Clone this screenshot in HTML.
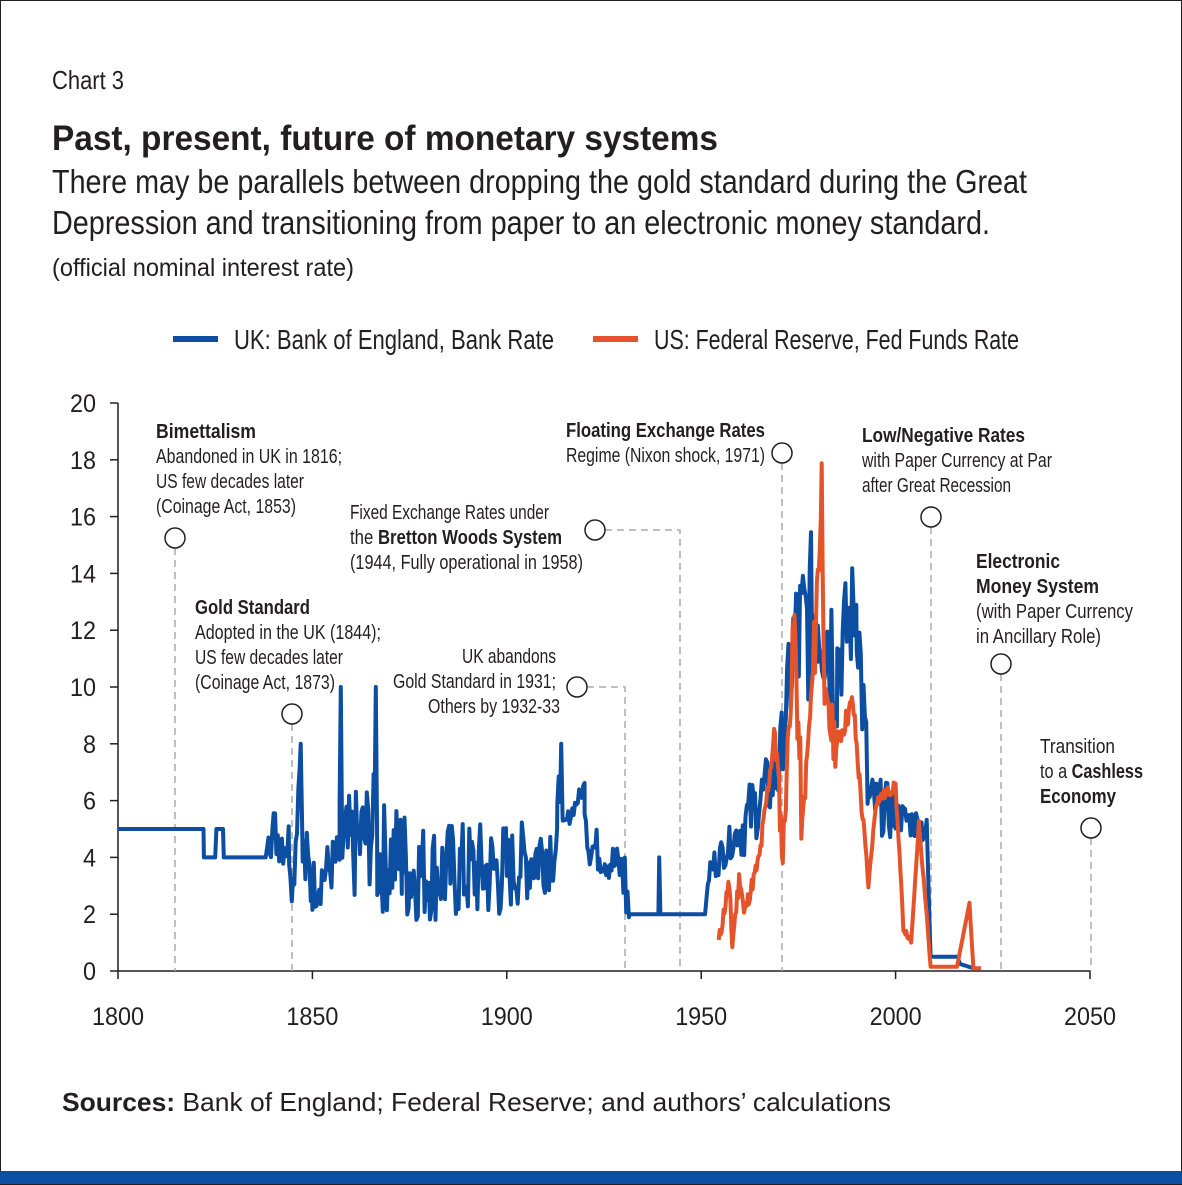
<!DOCTYPE html>
<html><head><meta charset="utf-8"><style>
html,body{margin:0;padding:0;background:#fff}
svg{display:block}
text{font-family:"Liberation Sans Narrow","Liberation Sans",sans-serif;fill:#231f20}
</style></head><body>
<svg id="s" width="1182" height="1185" xmlns="http://www.w3.org/2000/svg">
<rect x="0.5" y="0.5" width="1181" height="1184" fill="#fff" stroke="#231f20" stroke-width="1"/>
<rect x="0" y="1171" width="1182" height="13" fill="#0b4ea2"/>
<text x="52" y="89" font-size="26" textLength="72" lengthAdjust="spacingAndGlyphs">Chart 3</text>
<text x="52" y="150" font-size="35" font-weight="bold" textLength="666" lengthAdjust="spacingAndGlyphs">Past, present, future of monetary systems</text>
<text x="52" y="193" font-size="33" textLength="975" lengthAdjust="spacingAndGlyphs">There may be parallels between dropping the gold standard during the Great</text>
<text x="52" y="234" font-size="33" textLength="938" lengthAdjust="spacingAndGlyphs">Depression and transitioning from paper to an electronic money standard.</text>
<text x="52" y="276" font-size="25" textLength="302" lengthAdjust="spacingAndGlyphs">(official nominal interest rate)</text>
<line x1="173" y1="339" x2="218" y2="339" stroke="#0b4ea2" stroke-width="6"/>
<text x="234" y="349" font-size="28" textLength="320" lengthAdjust="spacingAndGlyphs">UK: Bank of England, Bank Rate</text>
<line x1="593" y1="339" x2="638" y2="339" stroke="#e5532a" stroke-width="6"/>
<text x="654" y="349" font-size="28" textLength="365" lengthAdjust="spacingAndGlyphs">US: Federal Reserve, Fed Funds Rate</text>
<g id="axes" font-size="25"></g>
<g stroke="#aaa" stroke-width="1.5" stroke-dasharray="7,5" fill="none">
<polyline points="175,548 175,971"/>
<polyline points="292,724 292,971"/>
<polyline points="605,530 680,530 680,971"/>
<polyline points="587,687 625,687 625,971"/>
<polyline points="782,463 782,971"/>
<polyline points="931,527 931,971"/>
<polyline points="1001,674 1001,971"/>
<polyline points="1091,838 1091,971"/>
</g>
<g fill="#fff" stroke="#231f20" stroke-width="1.5">
<circle cx="175" cy="538" r="10"/><circle cx="292" cy="714" r="10"/><circle cx="595" cy="530" r="10"/><circle cx="577" cy="687" r="10"/><circle cx="782" cy="453" r="10"/><circle cx="931" cy="517" r="10"/><circle cx="1001" cy="664" r="10"/><circle cx="1091" cy="828" r="10"/>
</g>
<g font-size="20">
<text x="156" y="438" font-weight="bold" textLength="100" lengthAdjust="spacingAndGlyphs">Bimettalism</text>
<text x="156" y="463" textLength="186" lengthAdjust="spacingAndGlyphs">Abandoned in UK in 1816;</text>
<text x="156" y="488" textLength="148" lengthAdjust="spacingAndGlyphs">US few decades later</text>
<text x="156" y="513" textLength="140" lengthAdjust="spacingAndGlyphs">(Coinage Act, 1853)</text>
<text x="195" y="614" font-weight="bold" textLength="115" lengthAdjust="spacingAndGlyphs">Gold Standard</text>
<text x="195" y="639" textLength="186" lengthAdjust="spacingAndGlyphs">Adopted in the UK (1844);</text>
<text x="195" y="664" textLength="148" lengthAdjust="spacingAndGlyphs">US few decades later</text>
<text x="195" y="689" textLength="140" lengthAdjust="spacingAndGlyphs">(Coinage Act, 1873)</text>
<text x="350" y="519" textLength="199" lengthAdjust="spacingAndGlyphs">Fixed Exchange Rates under</text>
<text x="350" y="544" textLength="212" lengthAdjust="spacingAndGlyphs">the <tspan font-weight="bold">Bretton Woods System</tspan></text>
<text x="350" y="569" textLength="233" lengthAdjust="spacingAndGlyphs">(1944, Fully operational in 1958)</text>
<text x="462" y="663" textLength="94" lengthAdjust="spacingAndGlyphs">UK abandons</text>
<text x="393" y="688" textLength="163" lengthAdjust="spacingAndGlyphs">Gold Standard in 1931;</text>
<text x="428" y="713" textLength="132" lengthAdjust="spacingAndGlyphs">Others by 1932-33</text>
<text x="566" y="437" font-weight="bold" textLength="199" lengthAdjust="spacingAndGlyphs">Floating Exchange Rates</text>
<text x="566" y="462" textLength="199" lengthAdjust="spacingAndGlyphs">Regime (Nixon shock, 1971)</text>
<text x="862" y="442" font-weight="bold" textLength="163" lengthAdjust="spacingAndGlyphs">Low/Negative Rates</text>
<text x="862" y="467" textLength="190" lengthAdjust="spacingAndGlyphs">with Paper Currency at Par</text>
<text x="862" y="492" textLength="149" lengthAdjust="spacingAndGlyphs">after Great Recession</text>
<text x="976" y="568" font-weight="bold" textLength="84" lengthAdjust="spacingAndGlyphs">Electronic</text>
<text x="976" y="593" font-weight="bold" textLength="123" lengthAdjust="spacingAndGlyphs">Money System</text>
<text x="976" y="618" textLength="157" lengthAdjust="spacingAndGlyphs">(with Paper Currency</text>
<text x="976" y="643" textLength="125" lengthAdjust="spacingAndGlyphs">in Ancillary Role)</text>
<text x="1040" y="753" textLength="75" lengthAdjust="spacingAndGlyphs">Transition</text>
<text x="1040" y="778" textLength="103" lengthAdjust="spacingAndGlyphs">to a <tspan font-weight="bold">Cashless</tspan></text>
<text x="1040" y="803" font-weight="bold" textLength="76" lengthAdjust="spacingAndGlyphs">Economy</text>
</g>
<polyline id="uk" fill="none" stroke="#0b4ea2" stroke-width="4" stroke-linejoin="round"/>
<polyline id="us" fill="none" stroke="#e5532a" stroke-width="4" stroke-linejoin="round"/>
<text x="62" y="1111" font-size="26" textLength="829" lengthAdjust="spacingAndGlyphs" style="font-family:'Liberation Sans',sans-serif"><tspan font-weight="bold">Sources:</tspan> Bank of England; Federal Reserve; and authors’ calculations</text>
</svg>
<script>
var X=function(y){return 118+(y-1800)*3.888},Y=function(v){return 971-v*28.4};
var ns="http://www.w3.org/2000/svg",ax=document.getElementById("axes");
function el(t,a,txt){var e=document.createElementNS(ns,t);for(var k in a)e.setAttribute(k,a[k]);if(txt!=null)e.textContent=txt;ax.appendChild(e);}
el("line",{x1:118,y1:403,x2:118,y2:971,stroke:"#231f20","stroke-width":1.5});
el("line",{x1:118,y1:971,x2:1090,y2:971,stroke:"#231f20","stroke-width":1.5});
for(var v=0;v<=20;v+=2){el("line",{x1:110,y1:Y(v),x2:118,y2:Y(v),stroke:"#231f20","stroke-width":1.5});el("text",{x:96,y:Y(v)+9,"text-anchor":"end","font-size":25,textLength:(v<10?13:26),lengthAdjust:"spacingAndGlyphs"},v);}
for(var y=1800;y<=2050;y+=50){el("line",{x1:X(y),y1:971,x2:X(y),y2:979,stroke:"#231f20","stroke-width":1.5});el("text",{x:X(y)-26,y:1025,"font-size":25,textLength:52,lengthAdjust:"spacingAndGlyphs"},y);}
var seed=7;function r(){seed=(seed*9301+49297)%233280;return seed/233280;}
function gen(anchors,step){var p=[];for(var i=0;i<anchors.length-1;i++){var a=anchors[i],b=anchors[i+1];for(var t=a[0];t<b[0];t+=step){var f=(t-a[0])/(b[0]-a[0]);var v=a[1]+(b[1]-a[1])*f;var n=a[2]||0;v+=(r()-0.5)*2*n;if(v<0.05)v=0.05;p.push(X(t).toFixed(1)+","+Y(v).toFixed(1));}}var l=anchors[anchors.length-1];p.push(X(l[0]).toFixed(1)+","+Y(l[1]).toFixed(1));return p.join(" ");}
var uk=[[1800,5],[1822,5],[1822.1,4],[1825,4],[1825.3,5],[1827,5],[1827.2,4],[1838,4],[1839,5,1],[1844,4.5,1],[1845,3,1],[1847,8,0],[1847.5,4,1.5],[1850,3,1],[1857,4,2],[1857.3,10,0],[1857.7,4,2],[1866,5,2.5],[1866.3,10,0],[1866.7,4,2],[1873,4,2],[1875,3.5,1.8],[1890,3.5,1.8],[1900,3.5,1.5],[1913,4.5,1.5],[1914,8,0],[1914.4,5,0.3],[1920,6.5,1],[1921,4.5,0.8],[1930,3.5,1.5],[1931.5,2,0],[1939,2,0],[1939.2,4,0],[1939.5,2,0],[1951,2,0],[1952,3.5,0.6],[1960,5,1.2],[1970,7,1.3],[1973,11,3],[1980,13,3],[1985,11,2],[1990,13,2],[1993,6,1],[2000,5.5,0.6],[2008,5,0.4],[2009,0.5,0],[2016,0.5,0],[2016.5,0.25,0],[2020,0.1,0]];
var us=[[1954.5,1,0.3],[1957,3,0.6],[1958,1,0.4],[1960,3.5,0.6],[1961,2,0.3],[1965,4,0.4],[1969,8.5,0.8],[1971,4,0.7],[1973,10,1.2],[1974,12,1.5],[1976,5,0.5],[1979,11,1.5],[1981,17,2],[1982,9,1],[1985,8,0.4],[1989,9.5,0.4],[1993,3,0.1],[1995,6,0.2],[2000,6.5,0.2],[2002,1.5,0.1],[2004,1,0],[2006,5.2,0.1],[2008,2,0.1],[2009,0.15,0],[2015.8,0.15,0],[2019,2.4,0],[2020,0.1,0],[2022,0.1,0]];
document.getElementById("uk").setAttribute("points",gen(uk,0.35));
seed=11;document.getElementById("us").setAttribute("points",gen(us,0.25));
</script>
</body></html>
